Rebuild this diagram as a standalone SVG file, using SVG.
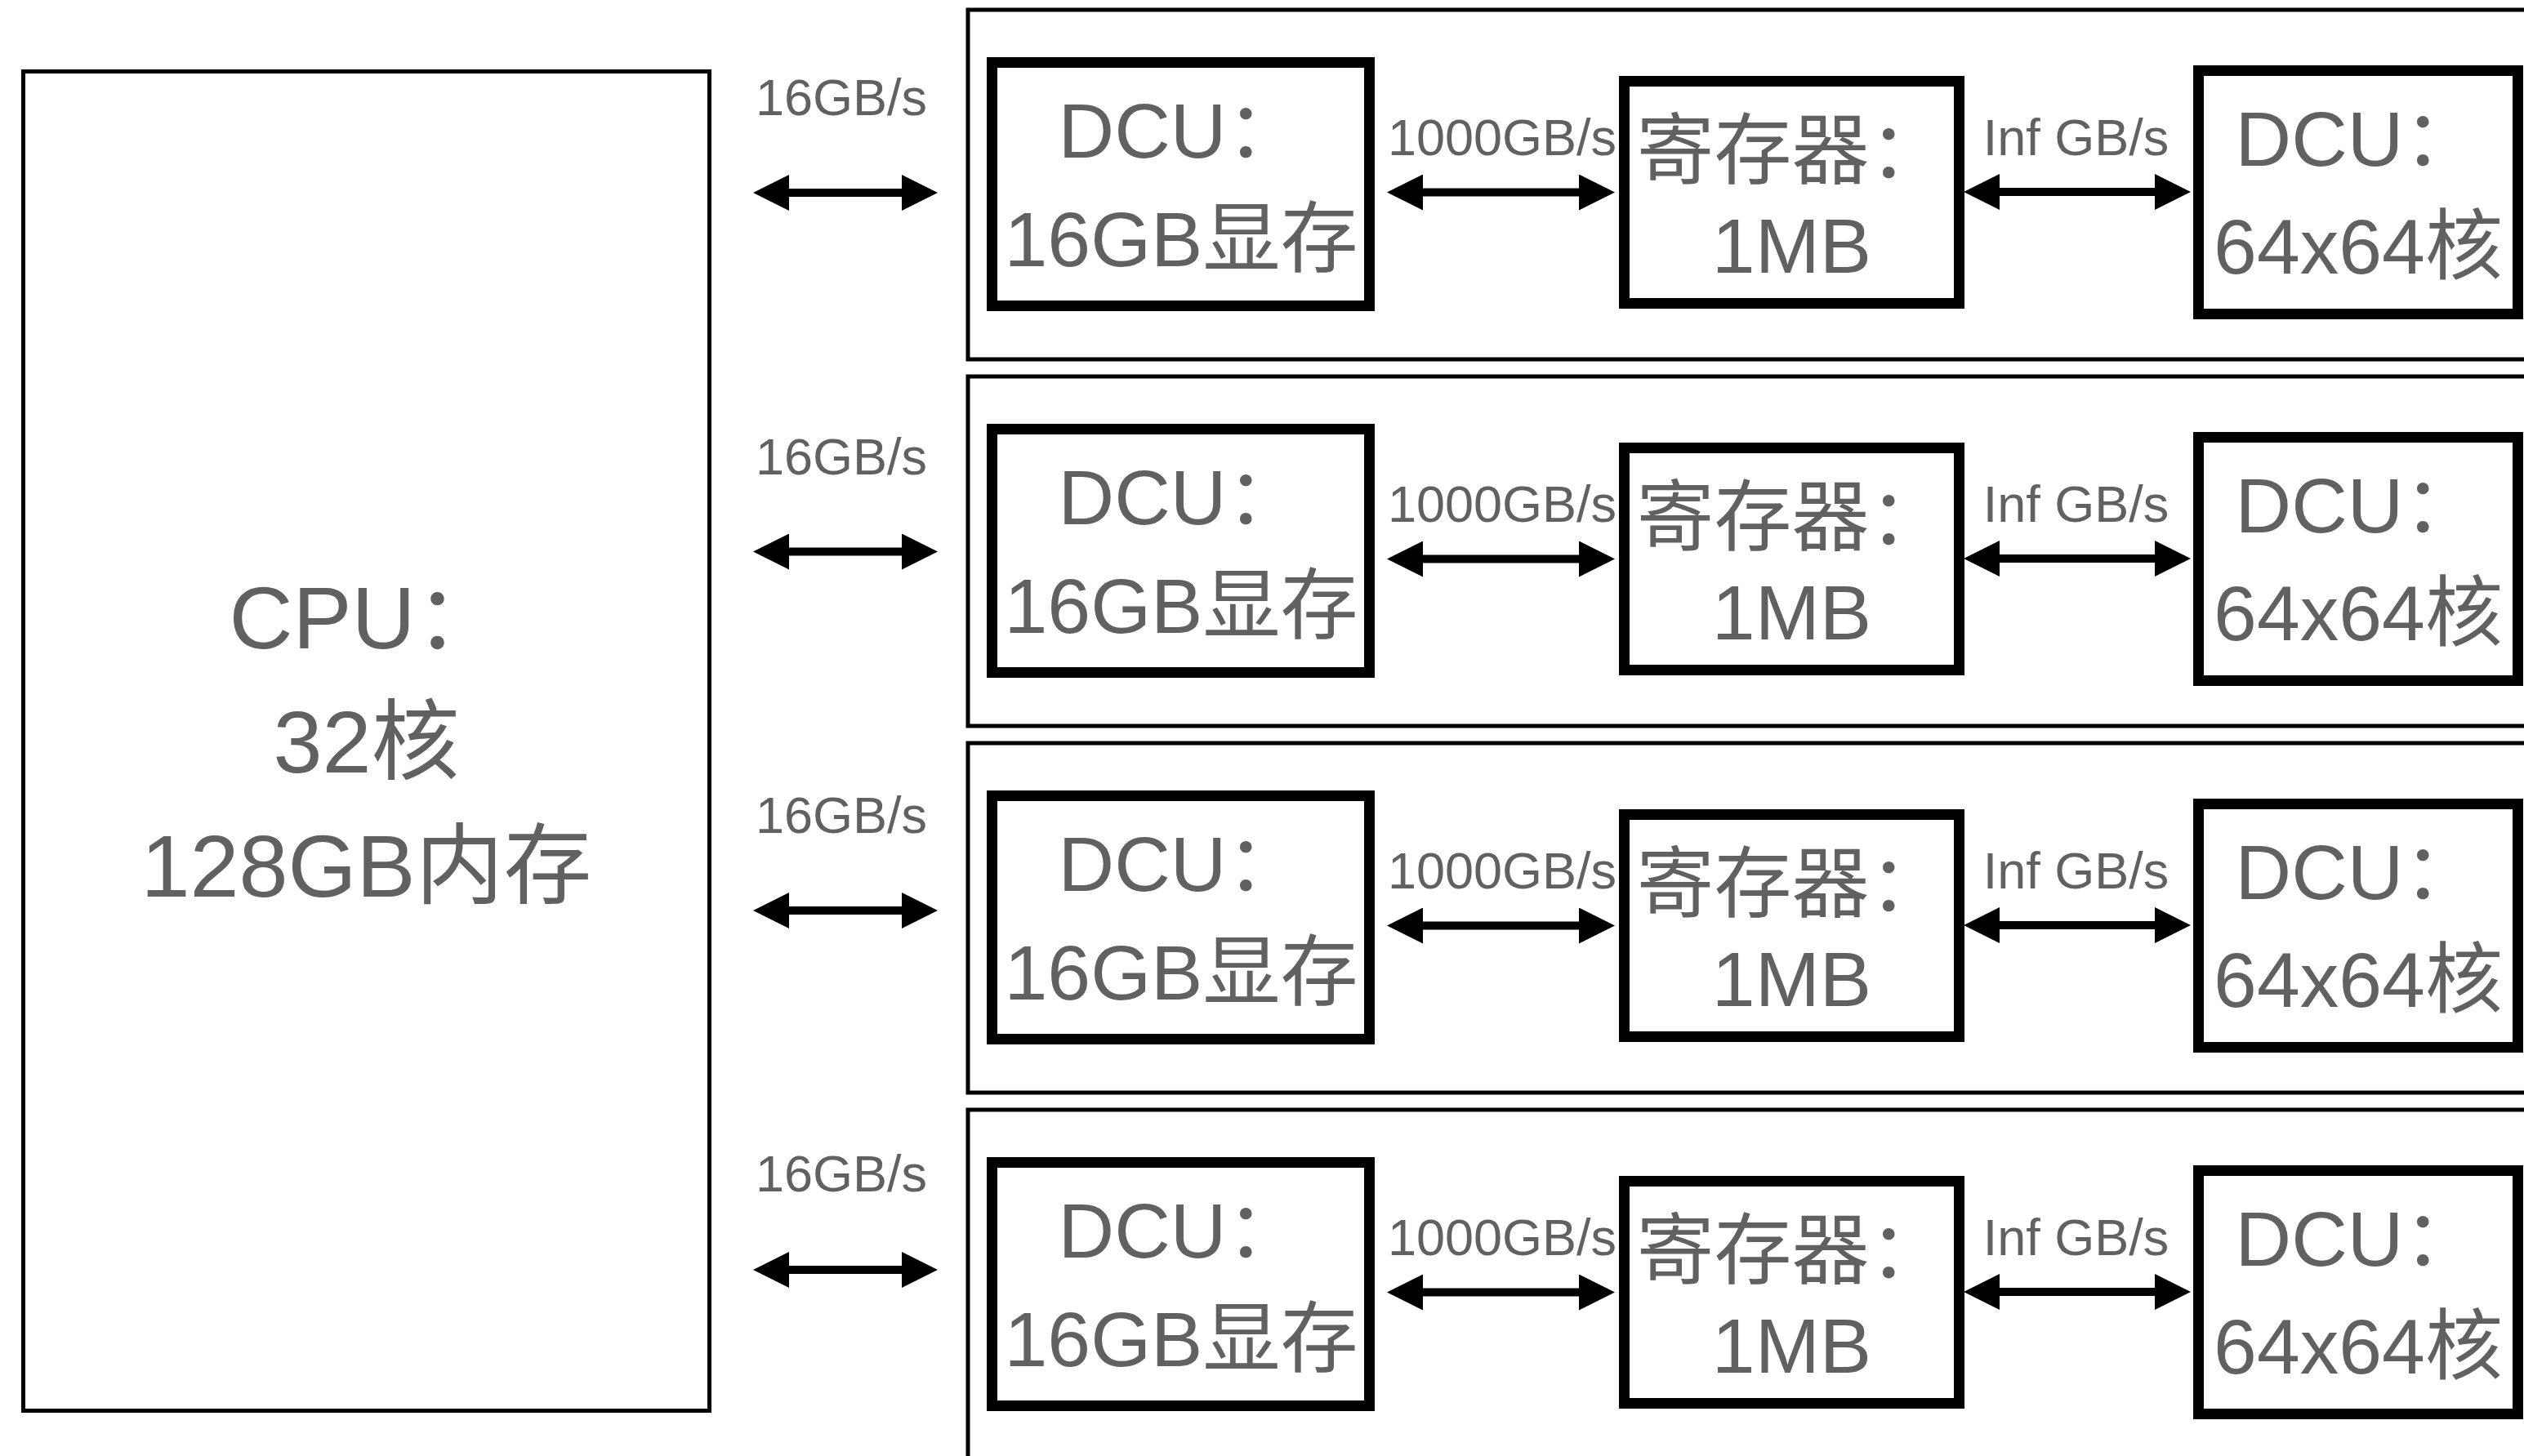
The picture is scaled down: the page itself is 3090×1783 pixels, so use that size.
<svg xmlns="http://www.w3.org/2000/svg" width="3090" height="1783" viewBox="0 0 3090 1783">
<style>
  .box { fill: #ffffff; stroke: #000000; }
  .thin { stroke-width: 5; }
  .thick { stroke-width: 13; }
  .row { fill: #ffffff; stroke: #000000; stroke-width: 5; }
  .t { font-family: 'Liberation Sans', 'Noto Sans CJK SC', sans-serif; fill: #616161; text-anchor: middle; }
  .big { font-size: 95px; }
  .cpu { font-size: 108px; }
  .lbl { font-size: 63px; }
  .arr { stroke: #000000; stroke-width: 10; fill: none; marker-start: url(#ah); marker-end: url(#ah); }
</style>
<defs>
  <marker id="ah" markerUnits="userSpaceOnUse" markerWidth="44" markerHeight="44" refX="34" refY="22" orient="auto-start-reverse" viewBox="0 0 44 44">
    <path d="M0,0 L44,22 L0,44 Z" fill="#000000"/>
  </marker>
</defs>
<rect width="3090" height="1783" fill="#ffffff"/>

<g id="cpu">
  <rect class="box thin" x="28.5" y="87.5" width="840" height="1640"/>
  <text class="t cpu" x="448.5" y="794">CPU：</text>
  <text class="t cpu" x="448.5" y="946">32核</text>
  <text class="t cpu" x="448.5" y="1098">128GB内存</text>
</g>

<g id="row-1">
  <rect class="row" x="1185" y="12" width="2000" height="428"/>
</g>
<g id="row-2">
  <rect class="row" x="1185" y="461" width="2000" height="428"/>
</g>
<g id="row-3">
  <rect class="row" x="1185" y="910" width="2000" height="428"/>
</g>
<g id="row-4">
  <rect class="row" x="1185" y="1359" width="2000" height="428"/>
</g>

<g id="dcu-mem-1">
  <rect class="box thick" x="1214.5" y="76.5" width="462" height="298"/>
  <text class="t big" x="1446" y="193">DCU：</text>
  <text class="t big" x="1446" y="326">16GB显存</text>
</g>
<g id="reg-1">
  <rect class="box thick" x="1988.5" y="99.5" width="410" height="272"/>
  <text class="t big" x="2193.5" y="218">寄存器：</text>
  <text class="t big" x="2193.5" y="334">1MB</text>
</g>
<g id="dcu-core-1">
  <rect class="box thick" x="2691.5" y="86.5" width="391" height="298"/>
  <text class="t big" x="2887" y="203">DCU：</text>
  <text class="t big" x="2887" y="335">64x64核</text>
</g>

<g id="dcu-mem-2">
  <rect class="box thick" x="1214.5" y="525.5" width="462" height="298"/>
  <text class="t big" x="1446" y="642">DCU：</text>
  <text class="t big" x="1446" y="775">16GB显存</text>
</g>
<g id="reg-2">
  <rect class="box thick" x="1988.5" y="548.5" width="410" height="272"/>
  <text class="t big" x="2193.5" y="667">寄存器：</text>
  <text class="t big" x="2193.5" y="783">1MB</text>
</g>
<g id="dcu-core-2">
  <rect class="box thick" x="2691.5" y="535.5" width="391" height="298"/>
  <text class="t big" x="2887" y="652">DCU：</text>
  <text class="t big" x="2887" y="784">64x64核</text>
</g>

<g id="dcu-mem-3">
  <rect class="box thick" x="1214.5" y="974.5" width="462" height="298"/>
  <text class="t big" x="1446" y="1091">DCU：</text>
  <text class="t big" x="1446" y="1224">16GB显存</text>
</g>
<g id="reg-3">
  <rect class="box thick" x="1988.5" y="997.5" width="410" height="272"/>
  <text class="t big" x="2193.5" y="1116">寄存器：</text>
  <text class="t big" x="2193.5" y="1232">1MB</text>
</g>
<g id="dcu-core-3">
  <rect class="box thick" x="2691.5" y="984.5" width="391" height="298"/>
  <text class="t big" x="2887" y="1101">DCU：</text>
  <text class="t big" x="2887" y="1233">64x64核</text>
</g>

<g id="dcu-mem-4">
  <rect class="box thick" x="1214.5" y="1423.5" width="462" height="298"/>
  <text class="t big" x="1446" y="1540">DCU：</text>
  <text class="t big" x="1446" y="1673">16GB显存</text>
</g>
<g id="reg-4">
  <rect class="box thick" x="1988.5" y="1446.5" width="410" height="272"/>
  <text class="t big" x="2193.5" y="1565">寄存器：</text>
  <text class="t big" x="2193.5" y="1681">1MB</text>
</g>
<g id="dcu-core-4">
  <rect class="box thick" x="2691.5" y="1433.5" width="391" height="298"/>
  <text class="t big" x="2887" y="1550">DCU：</text>
  <text class="t big" x="2887" y="1682">64x64核</text>
</g>

<g id="connectors">
  <line class="arr" x1="932" y1="236" x2="1138" y2="236"/>
  <line class="arr" x1="932" y1="675.5" x2="1138" y2="675.5"/>
  <line class="arr" x1="932" y1="1115" x2="1138" y2="1115"/>
  <line class="arr" x1="932" y1="1555" x2="1138" y2="1555"/>
  <text class="t lbl" x="1030" y="141">16GB/s</text>
  <text class="t lbl" x="1030" y="580.5">16GB/s</text>
  <text class="t lbl" x="1030" y="1020">16GB/s</text>
  <text class="t lbl" x="1030" y="1459">16GB/s</text>

  <line class="arr" x1="1708" y1="235.5" x2="1967" y2="235.5"/>
  <line class="arr" x1="1708" y1="684.5" x2="1967" y2="684.5"/>
  <line class="arr" x1="1708" y1="1133.5" x2="1967" y2="1133.5"/>
  <line class="arr" x1="1708" y1="1582.5" x2="1967" y2="1582.5"/>
  <text class="t lbl" x="1839" y="190">1000GB/s</text>
  <text class="t lbl" x="1839" y="639">1000GB/s</text>
  <text class="t lbl" x="1839" y="1088">1000GB/s</text>
  <text class="t lbl" x="1839" y="1537">1000GB/s</text>

  <line class="arr" x1="2414" y1="235" x2="2672" y2="235"/>
  <line class="arr" x1="2414" y1="684" x2="2672" y2="684"/>
  <line class="arr" x1="2414" y1="1133" x2="2672" y2="1133"/>
  <line class="arr" x1="2414" y1="1582" x2="2672" y2="1582"/>
  <text class="t lbl" x="2541.5" y="190">Inf GB/s</text>
  <text class="t lbl" x="2541.5" y="639">Inf GB/s</text>
  <text class="t lbl" x="2541.5" y="1088">Inf GB/s</text>
  <text class="t lbl" x="2541.5" y="1537">Inf GB/s</text>
</g>
</svg>
